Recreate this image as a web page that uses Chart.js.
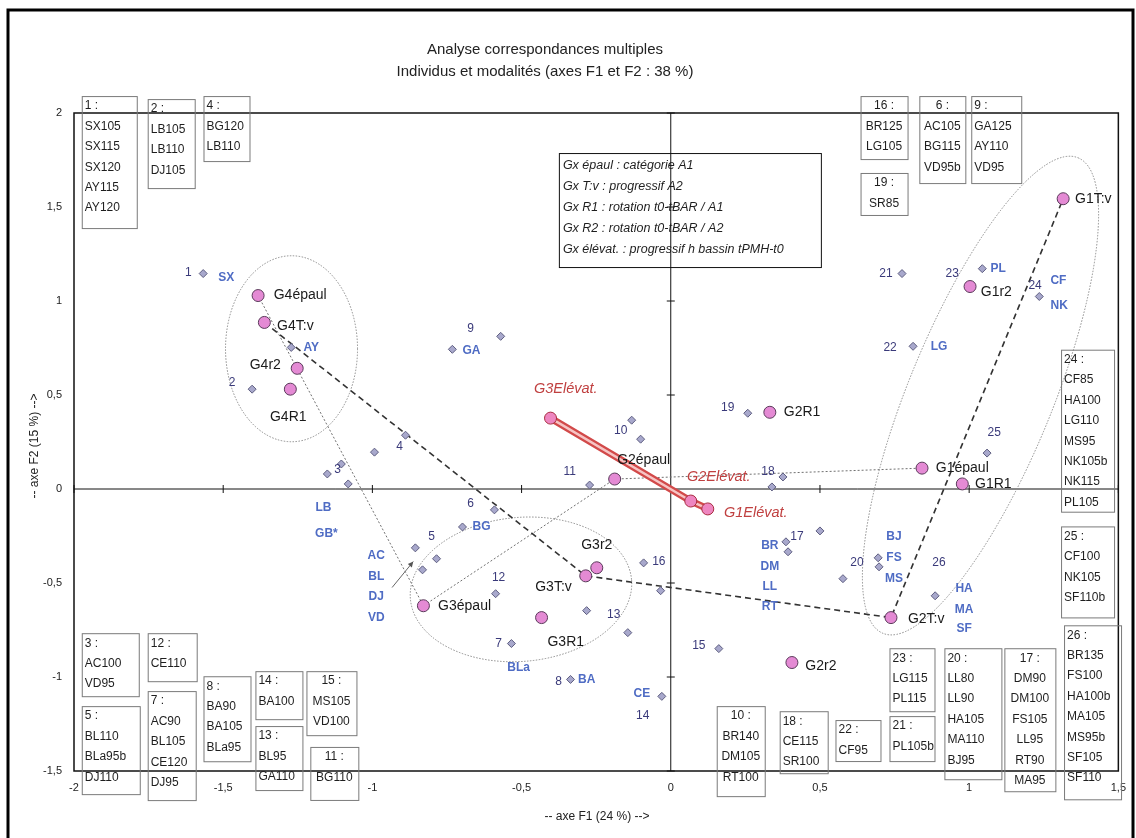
<!DOCTYPE html>
<html>
<head>
<meta charset="utf-8">
<script src="https://cdn.jsdelivr.net/npm/chart.js@4.4.0/dist/chart.umd.min.js"></script>
<style>
  body { margin: 0; background: #fff; }
  canvas { display: block; }
</style>
</head>
<body>
<canvas id="acm" width="1136" height="838"></canvas>
<script>
// Individus (losanges)
const indivX = [-1.567, -1.403, -1.151, -1.104, -1.081, -0.993, -0.889, -1.272, -0.856, -0.785, -0.832, -0.591, -0.698, -0.570, -0.732, -0.131, -0.101, -0.272, -0.587, -0.091, -0.034, -0.282, -0.144, -0.534, -0.336, -0.030, 0.161, 0.258, 0.376, 0.339, 0.386, 0.393, 0.500, 0.695, 0.698, 0.577, 0.886, 0.775, 1.044, 1.235, 0.812, 1.060];
const indivY = [1.146, 0.531, 0.080, 0.133, 0.027, 0.196, 0.286, 0.753, -0.313, -0.371, -0.430, -0.111, -0.202, 0.812, 0.743, 0.366, 0.265, 0.021, -0.557, -0.393, -0.541, -0.647, -0.764, -0.822, -1.013, -1.103, -0.849, 0.403, 0.064, 0.011, -0.281, -0.334, -0.223, -0.366, -0.414, -0.477, -0.568, 1.146, 1.172, 1.024, 0.759, 0.191];

// Numéros des individus
const numNames = ['1', '2', '3', '4', '5', '6', '9', '10', '11', '12', '16', '13', '7', '8', '14', '15', '19', '18', '17', '20', '26', '25', '21', '23', '24', '22'];
const numX = [-1.617, -1.470, -1.117, -0.909, -0.802, -0.671, -0.671, -0.168, -0.339, -0.577, -0.040, -0.191, -0.577, -0.376, -0.094, 0.094, 0.191, 0.326, 0.423, 0.624, 0.899, 1.084, 0.721, 0.943, 1.221, 0.735];
const numY = [1.151, 0.568, 0.101, 0.223, -0.255, -0.080, 0.854, 0.308, 0.090, -0.472, -0.387, -0.668, -0.822, -1.024, -1.204, -0.833, 0.430, 0.090, -0.255, -0.393, -0.393, 0.302, 1.146, 1.146, 1.082, 0.753];

// Modalités (étiquettes bleues)
const modNames = ['SX', 'AY', 'GA', 'LB', 'GB*', 'AC', 'BL', 'DJ', 'VD', 'BG', 'BLa', 'BA', 'CE', 'BR', 'DM', 'LL', 'RT', 'BJ', 'FS', 'MS', 'HA', 'MA', 'SF', 'PL', 'CF', 'NK', 'LG'];
const modX = [-1.490, -1.205, -0.668, -1.164, -1.154, -0.987, -0.987, -0.987, -0.987, -0.634, -0.510, -0.282, -0.097, 0.332, 0.332, 0.332, 0.332, 0.748, 0.748, 0.748, 0.983, 0.983, 0.983, 1.097, 1.299, 1.302, 0.899];
const modY = [1.125, 0.753, 0.737, -0.101, -0.239, -0.355, -0.467, -0.573, -0.684, -0.202, -0.950, -1.013, -1.088, -0.302, -0.414, -0.520, -0.626, -0.255, -0.366, -0.477, -0.531, -0.642, -0.743, 1.172, 1.109, 0.976, 0.759];

// Groupes (cercles roses)
const groupNames = ['G4épaul', 'G4T:v', 'G4r2', 'G4R1', 'G3épaul', 'G3r2', 'G3T:v', 'G3R1', 'G2épaul', 'G2R1', 'G2T:v', 'G2r2', 'G1T:v', 'G1r2', 'G1épaul', 'G1R1'];
const groupX = [-1.383, -1.362, -1.252, -1.275, -0.829, -0.248, -0.285, -0.433, -0.188, 0.332, 0.738, 0.406, 1.315, 1.003, 0.842, 0.977];
const groupY = [1.029, 0.886, 0.642, 0.531, -0.621, -0.419, -0.462, -0.684, 0.053, 0.408, -0.684, -0.923, 1.544, 1.077, 0.111, 0.027];
const groupLabelX = [-1.242, -1.258, -1.359, -1.282, -0.691, -0.248, -0.393, -0.352, -0.091, 0.440, 0.856, 0.503, 1.416, 1.091, 0.977, 1.081];
const groupLabelY = [1.029, 0.865, 0.658, 0.382, -0.621, -0.297, -0.520, -0.817, 0.154, 0.408, -0.690, -0.944, 1.544, 1.045, 0.111, 0.027];

// Élévation
const elevNames = ['G3Elévat.', 'G2Elévat.', 'G1Elévat.'];
const elevX = [-0.403, 0.067, 0.124];
const elevY = [0.377, -0.064, -0.106];
const elevLabelX = [-0.352, 0.161, 0.285];
const elevLabelY = [0.530, 0.064, -0.127];

// Trajectoires
const epaulPath = ['G4épaul', 'G3épaul', 'G2épaul', 'G1épaul'];
const tvPath = ['G4T:v', 'G3T:v', 'G2T:v', 'G1T:v'];

// Graduations
const xTicks = [-2, -1.5, -1, -0.5, 0, 0.5, 1, 1.5];
const yTicks = [-1.5, -1, -0.5, 0, 0.5, 1, 1.5, 2];

// Encadrés des individus
const boxes = [
  { lines: ['1 :', 'SX105', 'SX115', 'SX120', 'AY115', 'AY120'], x: -1.974, y: 2.090, w: 55, h: 132, align: 'left' },
  { lines: ['2 :', 'LB105', 'LB110', 'DJ105'], x: -1.753, y: 2.074, w: 47, h: 89, align: 'left' },
  { lines: ['4 :', 'BG120', 'LB110'], x: -1.566, y: 2.090, w: 46, h: 65, align: 'left' },
  { lines: ['16 :', 'BR125', 'LG105'], x: 0.636, y: 2.090, w: 47, h: 63, align: 'center' },
  { lines: ['19 :', 'SR85'], x: 0.636, y: 1.681, w: 47, h: 42, align: 'center' },
  { lines: ['6 :', 'AC105', 'BG115', 'VD95b'], x: 0.833, y: 2.090, w: 46, h: 87, align: 'center' },
  { lines: ['9 :', 'GA125', 'AY110', 'VD95'], x: 1.007, y: 2.090, w: 50, h: 87, align: 'left' },
  { lines: ['24 :', 'CF85', 'HA100', 'LG110', 'MS95', 'NK105b', 'NK115', 'PL105'], x: 1.308, y: 0.741, w: 53, h: 162, align: 'left' },
  { lines: ['25 :', 'CF100', 'NK105', 'SF110b'], x: 1.308, y: -0.199, w: 53, h: 91, align: 'left' },
  { lines: ['26 :', 'BR135', 'FS100', 'HA100b', 'MA105', 'MS95b', 'SF105', 'SF110'], x: 1.318, y: -0.725, w: 57, h: 174, align: 'left' },
  { lines: ['17 :', 'DM90', 'DM100', 'FS105', 'LL95', 'RT90', 'MA95'], x: 1.118, y: -0.847, w: 51, h: 143, align: 'center' },
  { lines: ['20 :', 'LL80', 'LL90', 'HA105', 'MA110', 'BJ95'], x: 0.917, y: -0.847, w: 57, h: 131, align: 'left' },
  { lines: ['23 :', 'LG115', 'PL115'], x: 0.733, y: -0.847, w: 45, h: 63, align: 'left' },
  { lines: ['21 :', 'PL105b'], x: 0.733, y: -1.208, w: 45, h: 45, align: 'left' },
  { lines: ['22 :', 'CF95'], x: 0.552, y: -1.229, w: 45, h: 41, align: 'left' },
  { lines: ['18 :', 'CE115', 'SR100'], x: 0.365, y: -1.182, w: 48, h: 62, align: 'left' },
  { lines: ['10 :', 'BR140', 'DM105', 'RT100'], x: 0.154, y: -1.155, w: 48, h: 90, align: 'center' },
  { lines: ['3 :', 'AC100', 'VD95'], x: -1.974, y: -0.767, w: 57, h: 63, align: 'left' },
  { lines: ['5 :', 'BL110', 'BLa95b', 'DJ110'], x: -1.974, y: -1.155, w: 58, h: 88, align: 'left' },
  { lines: ['12 :', 'CE110'], x: -1.753, y: -0.767, w: 49, h: 48, align: 'left' },
  { lines: ['7 :', 'AC90', 'BL105', 'CE120', 'DJ95'], x: -1.753, y: -1.075, w: 48, h: 109, align: 'left' },
  { lines: ['8 :', 'BA90', 'BA105', 'BLa95'], x: -1.566, y: -0.996, w: 47, h: 85, align: 'left' },
  { lines: ['14 :', 'BA100'], x: -1.392, y: -0.969, w: 47, h: 48, align: 'left' },
  { lines: ['13 :', 'BL95', 'GA110'], x: -1.392, y: -1.261, w: 47, h: 64, align: 'left' },
  { lines: ['15 :', 'MS105', 'VD100'], x: -1.221, y: -0.969, w: 50, h: 64, align: 'center' },
  { lines: ['11 :', 'BG110'], x: -1.208, y: -1.372, w: 48, h: 53, align: 'center' }
];

// Légende des groupes
const keyLines = ['Gx épaul : catégorie A1', 'Gx T:v : progressif A2', 'Gx R1 : rotation t0-tBAR / A1', 'Gx R2 : rotation t0-tBAR / A2', 'Gx élévat. : progressif h bassin tPMH-t0'];
const keyBox = { x: -0.375, y: 1.787, w: 262, h: 114 };

// Ellipses (centre en unités des axes, rayons en px)
const ellipses = [
  { cx: -1.271, cy: 0.746, rx: 66, ry: 93, rot: 0 },
  { cx: -0.502, cy: -0.534, rx: 111, ry: 72, rot: -5 },
  { cx: 1.038, cy: 0.497, rx: 257, ry: 72, rot: -67.7 }
];

// Petite flèche près de DJ
const arrowFrom = [-0.934, -0.524];
const arrowTo = [-0.863, -0.386];

const FONT = '"Liberation Sans", Arial, sans-serif';

function pathPoints(names) {
  return names.map(n => {
    const i = groupNames.indexOf(n);
    return { x: groupX[i], y: groupY[i] };
  });
}

const fmt = v => String(v).replace('.', ',');

const overlay = {
  id: 'overlay',
  beforeDatasetsDraw(chart) {
    const { ctx, chartArea: a, scales: { x, y } } = chart;
    ctx.save();
    const x0 = x.getPixelForValue(0);
    const y0 = y.getPixelForValue(0);
    ctx.strokeStyle = '#111';
    ctx.lineWidth = 1;
    ctx.beginPath();
    ctx.moveTo(a.left, y0); ctx.lineTo(a.right, y0);
    ctx.moveTo(x0, a.top); ctx.lineTo(x0, a.bottom);
    xTicks.forEach(v => {
      if (v === 0) return;
      const p = x.getPixelForValue(v);
      ctx.moveTo(p, y0 - 4); ctx.lineTo(p, y0 + 4);
    });
    yTicks.forEach(v => {
      if (v === 0) return;
      const p = y.getPixelForValue(v);
      ctx.moveTo(x0 - 4, p); ctx.lineTo(x0 + 4, p);
    });
    ctx.stroke();

    // cadre du graphique
    ctx.lineWidth = 1.5;
    ctx.strokeRect(a.left, a.top, a.right - a.left, a.bottom - a.top);

    // ellipses pointillées
    ctx.strokeStyle = '#8a8a8a';
    ctx.lineWidth = 1;
    ctx.setLineDash([1.5, 1.5]);
    ellipses.forEach(e => {
      ctx.beginPath();
      ctx.ellipse(x.getPixelForValue(e.cx), y.getPixelForValue(e.cy), e.rx, e.ry, e.rot * Math.PI / 180, 0, Math.PI * 2);
      ctx.stroke();
    });
    ctx.setLineDash([]);

    // flèche
    const ax = x.getPixelForValue(arrowFrom[0]), ay = y.getPixelForValue(arrowFrom[1]);
    const bx = x.getPixelForValue(arrowTo[0]), by = y.getPixelForValue(arrowTo[1]);
    ctx.strokeStyle = '#666';
    ctx.beginPath(); ctx.moveTo(ax, ay); ctx.lineTo(bx, by); ctx.stroke();
    const ang = Math.atan2(by - ay, bx - ax);
    ctx.fillStyle = '#555';
    ctx.beginPath();
    ctx.moveTo(bx, by);
    ctx.lineTo(bx - 6 * Math.cos(ang - 0.45), by - 6 * Math.sin(ang - 0.45));
    ctx.lineTo(bx - 6 * Math.cos(ang + 0.45), by - 6 * Math.sin(ang + 0.45));
    ctx.closePath(); ctx.fill();
    ctx.restore();
  },
  afterDatasetsDraw(chart) {
    const { ctx, scales: { x, y } } = chart;
    ctx.save();
    ctx.textBaseline = 'middle';
    ctx.textAlign = 'center';

    // numéros
    ctx.fillStyle = '#3a3a7a';
    ctx.font = '12px ' + FONT;
    numNames.forEach((t, i) => ctx.fillText(t, x.getPixelForValue(numX[i]), y.getPixelForValue(numY[i])));

    // modalités
    ctx.fillStyle = '#4f6cc4';
    ctx.font = 'bold 12px ' + FONT;
    modNames.forEach((t, i) => ctx.fillText(t, x.getPixelForValue(modX[i]), y.getPixelForValue(modY[i])));

    // groupes
    ctx.fillStyle = '#1a1a1a';
    ctx.font = '14px ' + FONT;
    groupNames.forEach((t, i) => ctx.fillText(t, x.getPixelForValue(groupLabelX[i]), y.getPixelForValue(groupLabelY[i])));

    // élévation
    ctx.fillStyle = '#c04040';
    ctx.font = 'italic 14.5px ' + FONT;
    elevNames.forEach((t, i) => ctx.fillText(t, x.getPixelForValue(elevLabelX[i]), y.getPixelForValue(elevLabelY[i])));

    // encadrés
    ctx.font = '12px ' + FONT;
    boxes.forEach(b => {
      const bx = x.getPixelForValue(b.x), by = y.getPixelForValue(b.y);
      ctx.strokeStyle = '#7a7a7a';
      ctx.lineWidth = 1;
      ctx.strokeRect(bx + 0.5, by + 0.5, b.w, b.h);
      ctx.fillStyle = '#1e1e1e';
      ctx.textAlign = b.align;
      const tx = b.align === 'center' ? bx + b.w / 2 : bx + 3;
      b.lines.forEach((l, k) => ctx.fillText(l, tx, by + 10 + k * 20.4));
    });

    // légende
    const kx = x.getPixelForValue(keyBox.x), ky = y.getPixelForValue(keyBox.y);
    ctx.strokeStyle = '#111';
    ctx.strokeRect(kx + 0.5, ky + 0.5, keyBox.w, keyBox.h);
    ctx.fillStyle = '#1e1e1e';
    ctx.textAlign = 'left';
    ctx.font = 'italic 12.5px ' + FONT;
    keyLines.forEach((l, k) => ctx.fillText(l, kx + 4, ky + 12 + k * 21));

    // titres
    ctx.textAlign = 'center';
    ctx.fillStyle = '#222';
    ctx.font = '15px ' + FONT;
    ctx.fillText('Analyse correspondances multiples', 545, 50);
    ctx.fillText('Individus et modalités (axes F1 et F2 : 38 %)', 545, 72);
    ctx.font = '12px ' + FONT;
    ctx.fillText('-- axe F1 (24 %) -->', 597, 817);
    ctx.save();
    ctx.translate(35, 446);
    ctx.rotate(-Math.PI / 2);
    ctx.fillText('-- axe F2 (15 %) -->', 0, 0);
    ctx.restore();

    // cadre extérieur
    ctx.strokeStyle = '#000';
    ctx.lineWidth = 3;
    ctx.strokeRect(8, 10, 1125, 840);
    ctx.restore();
  }
};

const elevPts = elevX.map((v, i) => ({ x: v, y: elevY[i] }));

new Chart(document.getElementById('acm'), {
  type: 'scatter',
  data: {
    datasets: [
      {
        label: 'épaul',
        data: pathPoints(epaulPath),
        showLine: true,
        borderColor: '#707070',
        borderWidth: 1,
        borderDash: [2, 2],
        pointRadius: 0,
        order: 10
      },
      {
        label: 'T:v',
        data: pathPoints(tvPath),
        showLine: true,
        borderColor: '#333',
        borderWidth: 1.6,
        borderDash: [6, 4],
        pointRadius: 0,
        order: 9
      },
      {
        label: 'élévation',
        data: elevPts,
        showLine: true,
        borderColor: '#d24a4a',
        borderWidth: 7,
        borderJoinStyle: 'round',
        borderCapStyle: 'round',
        pointRadius: 0,
        order: 8
      },
      {
        label: 'élévation centre',
        data: elevPts,
        showLine: true,
        borderColor: '#f7c4c4',
        borderWidth: 2.5,
        borderJoinStyle: 'round',
        pointRadius: 0,
        order: 7
      },
      {
        label: 'individus',
        data: indivX.map((v, i) => ({ x: v, y: indivY[i] })),
        pointStyle: 'rectRot',
        pointRadius: 4,
        backgroundColor: '#a8a8cc',
        borderColor: '#5e5e80',
        borderWidth: 1,
        order: 3
      },
      {
        label: 'groupes',
        data: groupX.map((v, i) => ({ x: v, y: groupY[i] })),
        pointStyle: 'circle',
        pointRadius: 6,
        backgroundColor: '#e48ad4',
        borderColor: '#5a3a5a',
        borderWidth: 1,
        order: 2
      },
      {
        label: 'élévation points',
        data: elevPts,
        pointStyle: 'circle',
        pointRadius: 6,
        backgroundColor: '#ee86c0',
        borderColor: '#a82c40',
        borderWidth: 1,
        order: 1
      }
    ]
  },
  options: {
    responsive: false,
    animation: false,
    events: [],
    layout: { padding: { left: 0, right: 16, top: 113, bottom: 27 } },
    plugins: {
      legend: { display: false },
      tooltip: { enabled: false },
      title: { display: false }
    },
    scales: {
      x: {
        type: 'linear',
        min: -2, max: 1.5,
        afterFit: s => { s.height = 40; },
        afterBuildTicks: s => { s.ticks = xTicks.map(v => ({ value: v })); },
        grid: { display: false, drawTicks: false },
        border: { display: false },
        ticks: { padding: 10, color: '#222', font: { size: 11, family: FONT }, callback: fmt, maxRotation: 0 }
      },
      y: {
        type: 'linear',
        min: -1.5, max: 2,
        afterFit: s => { s.width = 74; },
        afterBuildTicks: s => { s.ticks = yTicks.map(v => ({ value: v })); },
        grid: { display: false, drawTicks: false },
        border: { display: false },
        ticks: { padding: 12, color: '#222', font: { size: 11, family: FONT }, callback: fmt }
      }
    }
  },
  plugins: [overlay]
});
</script>
</body>
</html>
